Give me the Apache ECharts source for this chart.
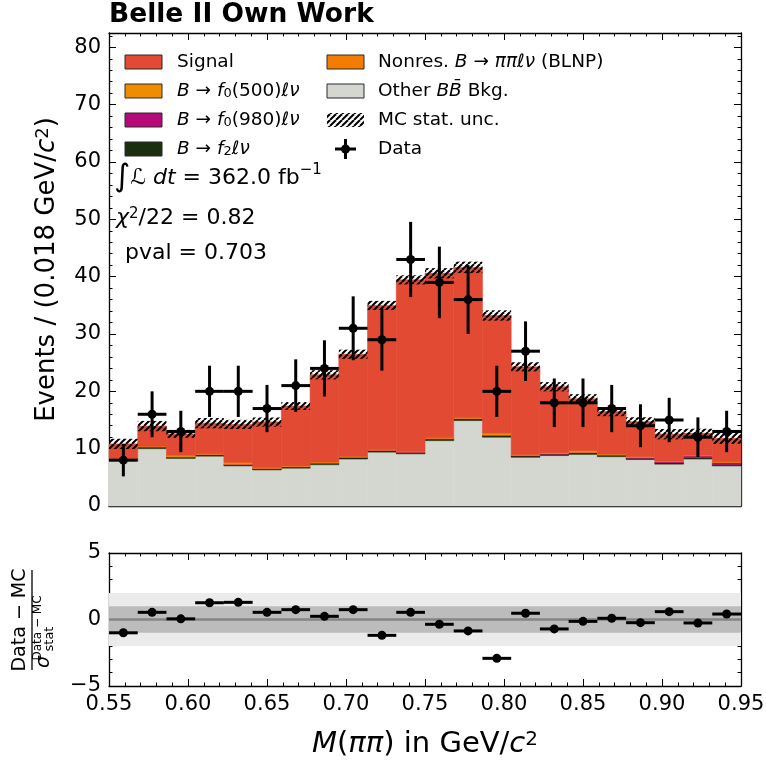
<!DOCTYPE html>
<html>
<head>
<meta charset="utf-8">
<script src="https://cdn.jsdelivr.net/npm/echarts@6/dist/echarts.min.js"></script>
<style>
  html, body { margin: 0; padding: 0; background: #fff; }
  #chart { width: 766px; height: 762px; }
</style>
</head>
<body>
<div id="chart"></div>
<script>
// 22 bins between 0.55 and 0.95 GeV/c^2
var xMin = 0.55, xMax = 0.95, nBins = 22;

// data counts and their errors
var dataCounts = [8, 16, 13, 20, 20, 17, 21, 24, 31, 29, 43, 39, 36, 20, 27, 18, 18, 17, 14, 15, 12, 13];
var dataErr = [2.83, 4.00, 3.61, 4.47, 4.47, 4.12, 4.58, 4.90, 5.57, 5.39, 6.56, 6.24, 6.00, 4.47, 5.20, 4.24, 4.24, 4.12, 3.74, 3.87, 3.46, 3.61];

// stacked MC components (bottom -> top)
var otherBB = [7.9, 10.0, 8.3, 8.7, 7.0, 6.3, 6.6, 7.2, 8.2, 9.4, 9.1, 11.4, 14.9, 12.0, 8.5, 8.8, 9.0, 8.6, 8.1, 7.3, 8.2, 7.0];
var f2 = [0.22, 0.28, 0.24, 0.26, 0.25, 0.23, 0.24, 0.27, 0.26, 0.28, 0.25, 0.29, 0.30, 0.27, 0.26, 0.25, 0.27, 0.26, 0.25, 0.28, 0.24, 0.26];
var f0980 = [0.02, 0.03, 0.02, 0.03, 0.02, 0.03, 0.03, 0.04, 0.05, 0.05, 0.06, 0.05, 0.06, 0.10, 0.06, 0.08, 0.07, 0.06, 0.08, 0.12, 0.30, 0.35];
var f0500 = [0.05, 0.08, 0.25, 0.10, 0.30, 0.12, 0.10, 0.12, 0.10, 0.08, 0.08, 0.10, 0.10, 0.30, 0.10, 0.12, 0.30, 0.10, 0.10, 0.08, 0.10, 0.06];
var nonres = [0.04, 0.05, 0.06, 0.05, 0.06, 0.06, 0.07, 0.06, 0.06, 0.07, 0.06, 0.05, 0.06, 0.06, 0.05, 0.05, 0.06, 0.05, 0.05, 0.05, 0.04, 0.04];
var signal = [2.6, 3.5, 3.7, 5.3, 6.6, 7.9, 10.4, 15.2, 17.8, 25.1, 29.9, 28.7, 26.2, 20.5, 15.3, 11.5, 9.0, 7.4, 6.1, 4.7, 3.8, 4.1];
var mcUnc = [0.9, 0.9, 0.7, 0.9, 0.8, 0.8, 0.7, 0.8, 0.8, 0.8, 0.8, 0.9, 1.0, 0.9, 0.8, 0.8, 0.8, 0.8, 0.8, 0.9, 0.8, 1.0];

// pulls (Data - MC) / sigma
var pulls = [-1.0, 0.54, 0.05, 1.26, 1.29, 0.54, 0.74, 0.24, 0.74, -1.19, 0.54, -0.36, -0.86, -2.92, 0.47, -0.71, -0.14, 0.09, -0.24, 0.59, -0.26, 0.41];

var FONT = '"DejaVu Sans"';

var edges = [];
for (var i = 0; i <= nBins; i++) edges.push(xMin + i * (xMax - xMin) / nBins);

// hatch pattern for MC stat. unc.
function makeHatch() {
  var s = 6;
  var c = document.createElement('canvas');
  c.width = s; c.height = s;
  var ctx = c.getContext('2d');
  ctx.strokeStyle = '#000';
  ctx.lineWidth = 2;
  for (var k = -1; k <= 1; k++) {
    ctx.beginPath();
    ctx.moveTo(k * s, s);
    ctx.lineTo(k * s + s, 0);
    ctx.stroke();
  }
  return c;
}
var hatch = makeHatch();

function rectItem(api, fill, stroke) {
  var p0 = api.coord([api.value(0), api.value(2)]);
  var p1 = api.coord([api.value(1), api.value(3)]);
  return {
    type: 'rect',
    shape: { x: p0[0], y: p1[1], width: p1[0] - p0[0], height: p0[1] - p1[1] },
    style: { fill: fill, stroke: stroke, lineWidth: stroke ? 0.6 : 0 }
  };
}

// stacked histogram series
var comps = [
  { name: 'Other', vals: otherBB, color: '#d4d6d0' },
  { name: 'f2', vals: f2, color: '#1b2e0e' },
  { name: 'f0980', vals: f0980, color: '#b5097a' },
  { name: 'f0500', vals: f0500, color: '#f08c00' },
  { name: 'Nonres', vals: nonres, color: '#f27b00' },
  { name: 'Signal', vals: signal, color: '#e24a33' }
];
var base = otherBB.map(function() { return 0; });
var series = [];
comps.forEach(function(cp, ci) {
  var rows = cp.vals.map(function(v, i) { return [edges[i], edges[i + 1], base[i], base[i] + v]; });
  base = base.map(function(b, i) { return b + cp.vals[i]; });
  series.push({
    type: 'custom', name: cp.name, xAxisIndex: 0, yAxisIndex: 0, z: 2 + ci * 0.01,
    silent: true, animation: false, data: rows,
    renderItem: function(params, api) { return rectItem(api, cp.color, cp.color); }
  });
});

// MC stat. unc. band
series.push({
  type: 'custom', name: 'MC stat. unc.', xAxisIndex: 0, yAxisIndex: 0, z: 4,
  silent: true, animation: false,
  data: base.map(function(t, i) { return [edges[i], edges[i + 1], t - mcUnc[i], t + mcUnc[i]]; }),
  renderItem: function(params, api) { return rectItem(api, { image: hatch, repeat: 'repeat' }, null); }
});

// data points
series.push({
  type: 'custom', name: 'Data', xAxisIndex: 0, yAxisIndex: 0, z: 6,
  silent: true, animation: false,
  data: dataCounts.map(function(n, i) { return [(edges[i] + edges[i + 1]) / 2, n, dataErr[i], edges[i], edges[i + 1]]; }),
  renderItem: function(params, api) {
    var y = api.value(1), e = api.value(2), c = api.value(0);
    var pl = api.coord([api.value(3), y]), ph = api.coord([api.value(4), y]);
    var pt = api.coord([c, y + e]), pb = api.coord([c, y - e]), pc = api.coord([c, y]);
    return { type: 'group', children: [
      { type: 'line', shape: { x1: pl[0], y1: pl[1], x2: ph[0], y2: ph[1] }, style: { stroke: '#000', lineWidth: 3 } },
      { type: 'line', shape: { x1: pt[0], y1: pt[1], x2: pb[0], y2: pb[1] }, style: { stroke: '#000', lineWidth: 3 } },
      { type: 'circle', shape: { cx: pc[0], cy: pc[1], r: 4.5 }, style: { fill: '#000' } }
    ] };
  }
});

// pull panel: bands, zero line, points
var bands = [[xMin, xMax, -2, 2, '#ebebeb'], [xMin, xMax, -1, 1, '#bcbcbc']];
bands.forEach(function(b, k) {
  series.push({
    type: 'custom', xAxisIndex: 2, yAxisIndex: 4, z: 1 + k * 0.1, silent: true, animation: false,
    data: [b.slice(0, 4)],
    renderItem: function(params, api) { return rectItem(api, b[4], null); }
  });
});
series.push({
  type: 'custom', xAxisIndex: 2, yAxisIndex: 4, z: 2, silent: true, animation: false,
  data: [[xMin, xMax, 0]],
  renderItem: function(params, api) {
    var a = api.coord([api.value(0), api.value(2)]), b = api.coord([api.value(1), api.value(2)]);
    return { type: 'line', shape: { x1: a[0], y1: a[1], x2: b[0], y2: b[1] }, style: { stroke: '#858585', lineWidth: 2.5 } };
  }
});
series.push({
  type: 'custom', xAxisIndex: 2, yAxisIndex: 4, z: 5, silent: true, animation: false,
  data: pulls.map(function(p, i) { return [edges[i], edges[i + 1], p]; }),
  renderItem: function(params, api) {
    var y = api.value(2);
    var pl = api.coord([api.value(0), y]), ph = api.coord([api.value(1), y]);
    var pc = api.coord([(api.value(0) + api.value(1)) / 2, y]);
    return { type: 'group', children: [
      { type: 'line', shape: { x1: pl[0], y1: pl[1], x2: ph[0], y2: ph[1] }, style: { stroke: '#000', lineWidth: 3 } },
      { type: 'circle', shape: { cx: pc[0], cy: pc[1], r: 4.5 }, style: { fill: '#000' } }
    ] };
  }
});

var tickStyle = { color: '#000', width: 1 };
var lineStyle = { color: '#000', width: 1.3 };
var labelStyle = { color: '#000', fontFamily: FONT, fontSize: 21 };

function xAxis(grid, pos, showLabel, extra) {
  var a = {
    type: 'value', gridIndex: grid, position: pos, min: xMin, max: xMax, interval: 0.05,
    axisLine: { show: true, onZero: false, lineStyle: lineStyle },
    axisTick: { show: true, inside: true, length: 7, lineStyle: tickStyle },
    minorTick: { show: true, splitNumber: 5, length: 3.5, lineStyle: tickStyle },
    splitLine: { show: false }, minorSplitLine: { show: false },
    axisLabel: Object.assign({ show: showLabel, margin: 8, formatter: function(v) { return v.toFixed(2); } }, labelStyle)
  };
  return Object.assign(a, extra || {});
}
function yAxis(grid, pos, min, max, interval, tickLen, minor, showLabel, extra) {
  var a = {
    type: 'value', gridIndex: grid, position: pos, min: min, max: max, interval: interval,
    axisLine: { show: true, onZero: false, lineStyle: lineStyle },
    axisTick: { show: true, inside: true, length: tickLen, lineStyle: tickStyle },
    minorTick: { show: minor, splitNumber: 5, length: 3.5, lineStyle: tickStyle },
    splitLine: { show: false }, minorSplitLine: { show: false },
    axisLabel: Object.assign({ show: showLabel, margin: 8, showMaxLabel: false }, labelStyle)
  };
  return Object.assign(a, extra || {});
}

var yMainMax = 82.5;
var supStyle = function(size) {
  return { fontFamily: FONT, fontSize: size, color: '#000', fill: '#000', verticalAlign: 'top' };
};

var option = {
  backgroundColor: '#fff',
  animation: false,
  grid: [
    { left: 109, right: 25, top: 33, height: 473, outerBoundsMode: 'none' },
    { left: 109, right: 25, top: 553, height: 133, outerBoundsMode: 'none' }
  ],
  xAxis: [
    xAxis(0, 'bottom', false),
    xAxis(0, 'top', false),
    xAxis(1, 'bottom', true, {
      name: '{i|M}{n|(}{i|ππ}{n|) in GeV/}{i|c}{s|2}', nameLocation: 'middle', nameGap: 44, nameMoveOverlap: false,
      nameTextStyle: { color: '#000', fontFamily: FONT, fontSize: 29,
        rich: {
          i: { fontStyle: 'italic', fontFamily: FONT, fontSize: 29, color: '#000' },
          n: { fontFamily: FONT, fontSize: 29, color: '#000' },
          s: supStyle(20)
        } }
    }),
    xAxis(1, 'top', false)
  ],
  yAxis: [
    yAxis(0, 'left', 0, yMainMax, 10, 7, false, true, {
      name: '{n|Events / (0.018 GeV/}{i|c}{s|2}{n|)}', nameLocation: 'middle', nameGap: 49, nameRotate: 90, nameMoveOverlap: false,
      nameTextStyle: { color: '#000', fontFamily: FONT, fontSize: 26,
        rich: {
          i: { fontStyle: 'italic', fontFamily: FONT, fontSize: 26, color: '#000' },
          n: { fontFamily: FONT, fontSize: 26, color: '#000' },
          s: supStyle(18)
        } }
    }),
    yAxis(0, 'left', 0, yMainMax, 2, 3.5, false, false, { axisLine: { show: false } }),
    yAxis(0, 'right', 0, yMainMax, 10, 7, false, false),
    yAxis(0, 'right', 0, yMainMax, 2, 3.5, false, false, { axisLine: { show: false } }),
    yAxis(1, 'left', -5, 5, 5, 7, true, true),
    yAxis(1, 'right', -5, 5, 5, 7, true, false)
  ],
  series: series
};
option.yAxis[4].axisLabel.showMaxLabel = true;
option.yAxis[4].axisLabel.formatter = function(v) { return v < 0 ? '\u2212' + Math.abs(v) : String(v); };

// legend + annotations drawn as graphic elements
var LEG = 18.5;
var legRich = {
  n: { fontFamily: FONT, fontSize: LEG, fill: '#000' },
  i: { fontStyle: 'italic', fontFamily: FONT, fontSize: LEG, fill: '#000' },
  sub: { fontFamily: FONT, fontSize: 13, fill: '#000', verticalAlign: 'bottom' }
};
var legendLeft = [
  { text: '{n|Signal}', color: '#e24a33', y: 62 },
  { text: '{i|B}{n| → }{i|f}{sub|0}{n|(500)}{i|ℓν}', color: '#f08c00', y: 91 },
  { text: '{i|B}{n| → }{i|f}{sub|0}{n|(980)}{i|ℓν}', color: '#b5097a', y: 120 },
  { text: '{i|B}{n| → }{i|f}{sub|2}{i|ℓν}', color: '#1b2e0e', y: 149 }
];
var legendRight = [
  { text: '{n|Nonres. }{i|B}{n| → }{i|ππℓν}{n| (BLNP)}', kind: 'patch', color: '#f27b00', y: 62 },
  { text: '{n|Other }{i|BB\u0304}{n| Bkg.}', kind: 'patch', color: '#d4d6d0', y: 91 },
  { text: '{n|MC stat. unc.}', kind: 'hatch', y: 120 },
  { text: '{n|Data}', kind: 'data', y: 149 }
];
var g = [];
function legText(x, y, t) {
  g.push({ type: 'text', x: x, y: y, style: { text: t, font: LEG + 'px ' + FONT, fill: '#000',
    textVerticalAlign: 'middle', rich: legRich } });
}
legendLeft.forEach(function(r) {
  g.push({ type: 'rect', shape: { x: 125, y: r.y - 7, width: 37, height: 14 },
    style: { fill: r.color, stroke: '#2b2b2b', lineWidth: 1 } });
  legText(177, r.y, r.text);
});
legendRight.forEach(function(r) {
  if (r.kind === 'patch') {
    g.push({ type: 'rect', shape: { x: 327, y: r.y - 7, width: 37, height: 14 },
      style: { fill: r.color, stroke: '#2b2b2b', lineWidth: 1 } });
  } else if (r.kind === 'hatch') {
    g.push({ type: 'rect', shape: { x: 327, y: r.y - 7, width: 37, height: 14 },
      style: { fill: { image: hatch, repeat: 'repeat' } } });
  } else {
    g.push({ type: 'line', shape: { x1: 335, y1: r.y, x2: 356, y2: r.y }, style: { stroke: '#000', lineWidth: 3 } });
    g.push({ type: 'line', shape: { x1: 345.5, y1: r.y - 10, x2: 345.5, y2: r.y + 10 }, style: { stroke: '#000', lineWidth: 3 } });
    g.push({ type: 'circle', shape: { cx: 345.5, cy: r.y, r: 4.5 }, style: { fill: '#000' } });
  }
  legText(378, r.y, r.text);
});

// title
g.push({ type: 'text', x: 109, y: 15, style: { text: 'Belle II Own Work', font: 'bold 26.5px ' + FONT,
  fill: '#000', textVerticalAlign: 'middle' } });

// annotations
var ANN = 22;
var annRich = {
  n: { fontSize: ANN, fontFamily: FONT, fill: '#000' },
  big: { fontSize: 31, fontFamily: FONT, fill: '#000' },
  i: { fontStyle: 'italic', fontSize: ANN, fontFamily: FONT, fill: '#000' },
  sup: { fontSize: 15, fontFamily: FONT, fill: '#000', verticalAlign: 'top' }
};
g.push({ type: 'text', x: 114, y: 178, style: { text: '{big|∫}{n|ℒ }{i|dt}{n| = 362.0 fb}{sup|−1}', font: ANN + 'px ' + FONT,
  fill: '#000', textVerticalAlign: 'middle', rich: annRich } });
g.push({ type: 'text', x: 116, y: 218, style: { text: '{i|χ}{sup|2}{n|/22 = 0.82}', font: ANN + 'px ' + FONT,
  fill: '#000', textVerticalAlign: 'middle', rich: annRich } });
g.push({ type: 'text', x: 125, y: 253, style: { text: 'pval = 0.703', font: ANN + 'px ' + FONT,
  fill: '#000', textVerticalAlign: 'middle' } });

// pull-panel y label (fraction, rotated)
g.push({ type: 'group', x: 32, y: 620, rotation: Math.PI / 2, children: [
  { type: 'text', x: 0, y: -12, style: { text: 'Data − MC', font: '19px ' + FONT, fill: '#000', textAlign: 'center', textVerticalAlign: 'middle' } },
  { type: 'line', shape: { x1: -50, y1: 0, x2: 50, y2: 0 }, style: { stroke: '#000', lineWidth: 1.3 } },
  { type: 'text', x: -42, y: 12, style: { text: 'σ', font: 'italic 19px ' + FONT, fill: '#000', textAlign: 'center', textVerticalAlign: 'middle' } },
  { type: 'text', x: -8, y: 6, style: { text: 'Data − MC', font: '12px ' + FONT, fill: '#000', textAlign: 'center', textVerticalAlign: 'middle' } },
  { type: 'text', x: -19, y: 18, style: { text: 'stat', font: '13px ' + FONT, fill: '#000', textAlign: 'center', textVerticalAlign: 'middle' } }
] });

option.graphic = g;

var myChart = echarts.init(document.getElementById('chart'));
myChart.setOption(option);
</script>
</body>
</html>
